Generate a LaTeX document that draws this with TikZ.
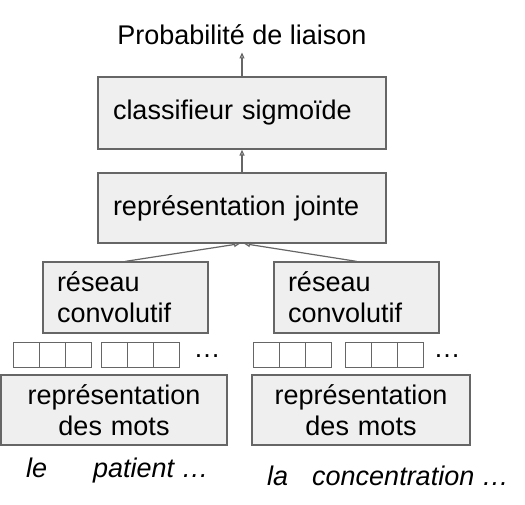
\documentclass[tikz,border=0pt]{standalone}
\usepackage{fontspec}
\setmainfont{Liberation Sans}
\usetikzlibrary{arrows.meta}
\definecolor{boxfill}{HTML}{EFEFEF}
\definecolor{boxline}{HTML}{666666}
\tikzset{
  box/.style={draw=boxline, fill=boxfill, line width=1.3pt, inner sep=0pt},
  cell/.style={draw=boxline, line width=1.3pt, minimum width=26pt, minimum height=25pt, inner sep=0pt, anchor=north west},
  conn/.style={draw=boxline, line width=1.2pt, -{Triangle[open, length=6pt, width=5pt]}},
  lbl/.style={font=\fontsize{27}{31}\selectfont, inner sep=0pt},
  word/.style={font=\fontsize{27}{31}\selectfont\itshape, inner sep=0pt, anchor=base west},
}
\begin{document}
\begin{tikzpicture}[x=1pt,y=-1pt]
\useasboundingbox (0,0) rectangle (525,505);
% title
\node[lbl, anchor=base, inner ysep=7pt] (title) at (242,45) {Probabilité de liaison};
% classifier
\node[box, lbl, minimum width=288pt, minimum height=72pt, text width=258pt, align=left] (clf) at (242,113) {classifieur sigmoïde};
% joint
\node[box, lbl, minimum width=288pt, minimum height=70pt, text width=258pt, align=left] (joint) at (242,208) {représentation jointe};
% conv nets
\node[box, lbl, minimum width=165pt, minimum height=71pt, text width=137pt, align=left] (conv1) at (125.5,297.5) {réseau\\convolutif};
\node[box, lbl, minimum width=165pt, minimum height=71pt, text width=137pt, align=left] (conv2) at (356.5,297.5) {réseau\\convolutif};
% word representation
\node[box, lbl, minimum width=226pt, minimum height=70pt, text width=220pt, align=center] (rep1) at (114,410) {représentation\\des mots};
\node[box, lbl, minimum width=218pt, minimum height=70pt, text width=212pt, align=center] (rep2) at (361,410) {représentation\\des mots};
% vector cells
\foreach \gx/\g in {13/a,101/b,253/c,345/d}{
  \foreach \i in {0,1,2}{
    \node[cell] (cell\g\i) at ({\gx+26*\i},342) {};
  }
}
\node[lbl, anchor=base] (dots1) at (207,357) {…};
\node[lbl, anchor=base] (dots2) at (447,357) {…};
% words
\node[word] (w1) at (26,477) {le};
\node[word] (w2) at (93,477) {patient …};
\node[word] (w3) at (267,485) {la};
\node[word] (w4) at (312,485) {concentration …};
% connectors
\draw[conn] (clf.north) -- (title.south);
\draw[conn] (joint.north) -- (clf.south);
\draw[conn] (conv1.north) -- ([xshift=-2pt]joint.south);
\draw[conn] (conv2.north) -- ([xshift=2pt]joint.south);
\end{tikzpicture}
\end{document}
